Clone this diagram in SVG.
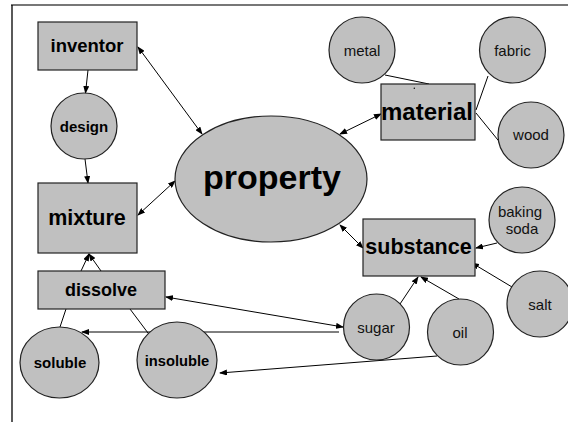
<svg xmlns="http://www.w3.org/2000/svg" width="568" height="422" viewBox="0 0 568 422">
  <defs>
    <marker id="arrow" markerWidth="8" markerHeight="6" refX="7" refY="3" orient="auto-start-reverse" markerUnits="userSpaceOnUse">
      <path d="M0,0 L8,3 L0,6 z" fill="#000"/>
    </marker>
  </defs>
  <style>
    .node { fill: #c0c0c0; stroke: #222; stroke-width: 1.2; }
    .bold { font-family: "Liberation Sans", Arial, sans-serif; font-weight: bold; fill: #000; text-anchor: middle; }
    .reg { font-family: "Liberation Sans", Arial, sans-serif; fill: #111; text-anchor: middle; font-size: 15px; }
    .link { stroke: #000; stroke-width: 1; fill: none; }
    .one { marker-end: url(#arrow); }
    .two { marker-start: url(#arrow); marker-end: url(#arrow); }
  </style>

  <rect width="568" height="422" fill="#fff"/>
  <!-- page frame -->
  <line x1="11" y1="5" x2="568" y2="5" stroke="#777" stroke-width="2"/>
  <line x1="12" y1="5" x2="12" y2="422" stroke="#000" stroke-width="1.3"/>

  <g id="connectors">
    <line class="link one" x1="88" y1="70" x2="85.5" y2="93"/>
    <line class="link one" x1="85" y1="159" x2="88" y2="183"/>
    <line class="link two" x1="138" y1="47" x2="202" y2="134"/>
    <line class="link two" x1="138" y1="215" x2="175" y2="181"/>
    <line class="link two" x1="340" y1="134" x2="381" y2="114"/>
    <line class="link two" x1="340" y1="225" x2="363" y2="248"/>
    <line class="link one" x1="81" y1="271" x2="89" y2="254"/>
    <line class="link one" x1="101" y1="271" x2="89" y2="254"/>
    <line class="link" x1="66" y1="309" x2="60" y2="327"/>
    <line class="link" x1="130" y1="309" x2="148" y2="333"/>
    <line class="link two" x1="166" y1="297" x2="343" y2="327"/>
    <line class="link one" x1="339" y1="332" x2="82" y2="332"/>
    <line class="link one" x1="437" y1="356" x2="220" y2="373"/>
    <line class="link one" x1="400" y1="304" x2="418" y2="277"/>
    <line class="link one" x1="459" y1="299" x2="421" y2="277"/>
    <line class="link one" x1="497" y1="243" x2="476" y2="248"/>
    <line class="link one" x1="512" y1="287" x2="472" y2="263"/>
    <line class="link" x1="385" y1="75" x2="429" y2="84"/>
    <line class="link" x1="488" y1="76" x2="476" y2="110"/>
    <line class="link" x1="476" y1="113" x2="502" y2="145"/>
  </g>

  <g id="property">
    <ellipse class="node" cx="271" cy="179" rx="96" ry="63"/>
    <text class="bold" x="272" y="189" font-size="34">property</text>
  </g>
  <g id="inventor">
    <rect class="node" x="38" y="22" width="99" height="48"/>
    <text class="bold" x="87" y="52" font-size="18.5">inventor</text>
  </g>
  <g id="design">
    <circle class="node" cx="84" cy="126" r="33"/>
    <text class="bold" x="84" y="131.5" font-size="15">design</text>
  </g>
  <g id="mixture">
    <rect class="node" x="38" y="183" width="99" height="70"/>
    <text class="bold" x="87" y="225" font-size="21.5">mixture</text>
  </g>
  <g id="dissolve">
    <rect class="node" x="38" y="271" width="127" height="38"/>
    <text class="bold" x="101" y="296" font-size="18">dissolve</text>
  </g>
  <g id="soluble">
    <ellipse class="node" cx="59.5" cy="362.5" rx="39.5" ry="35.5"/>
    <text class="bold" x="60" y="367.5" font-size="15">soluble</text>
  </g>
  <g id="insoluble">
    <ellipse class="node" cx="177" cy="360" rx="40" ry="38"/>
    <text class="bold" x="177" y="366" font-size="14.7">insoluble</text>
  </g>
  <g id="material">
    <rect class="node" x="381" y="84" width="94" height="56"/>
    <circle cx="414.3" cy="88.3" r="0.7" fill="#000"/>
    <text class="bold" x="427" y="119.5" font-size="24">material</text>
  </g>
  <g id="metal">
    <circle class="node" cx="362" cy="50" r="33"/>
    <text class="reg" x="362" y="55.5">metal</text>
  </g>
  <g id="fabric">
    <circle class="node" cx="512.5" cy="50" r="33"/>
    <text class="reg" x="512.5" y="55.5">fabric</text>
  </g>
  <g id="wood">
    <circle class="node" cx="531" cy="135" r="33"/>
    <text class="reg" x="531" y="140">wood</text>
  </g>
  <g id="substance">
    <rect class="node" x="363" y="219" width="112" height="57"/>
    <text class="bold" x="418.5" y="254" font-size="21.5">substance</text>
  </g>
  <g id="baking-soda">
    <circle class="node" cx="522" cy="220" r="33"/>
    <text class="reg" x="520" y="216.5" font-size="14">baking</text>
    <text class="reg" x="522" y="233.5" font-size="14">soda</text>
  </g>
  <g id="salt">
    <circle class="node" cx="540" cy="304" r="33"/>
    <text class="reg" x="540" y="309.5">salt</text>
  </g>
  <g id="sugar">
    <circle class="node" cx="376.5" cy="327" r="33"/>
    <text class="reg" x="376" y="333">sugar</text>
  </g>
  <g id="oil">
    <circle class="node" cx="460.5" cy="332" r="33"/>
    <text class="reg" x="460" y="338">oil</text>
  </g>
</svg>
